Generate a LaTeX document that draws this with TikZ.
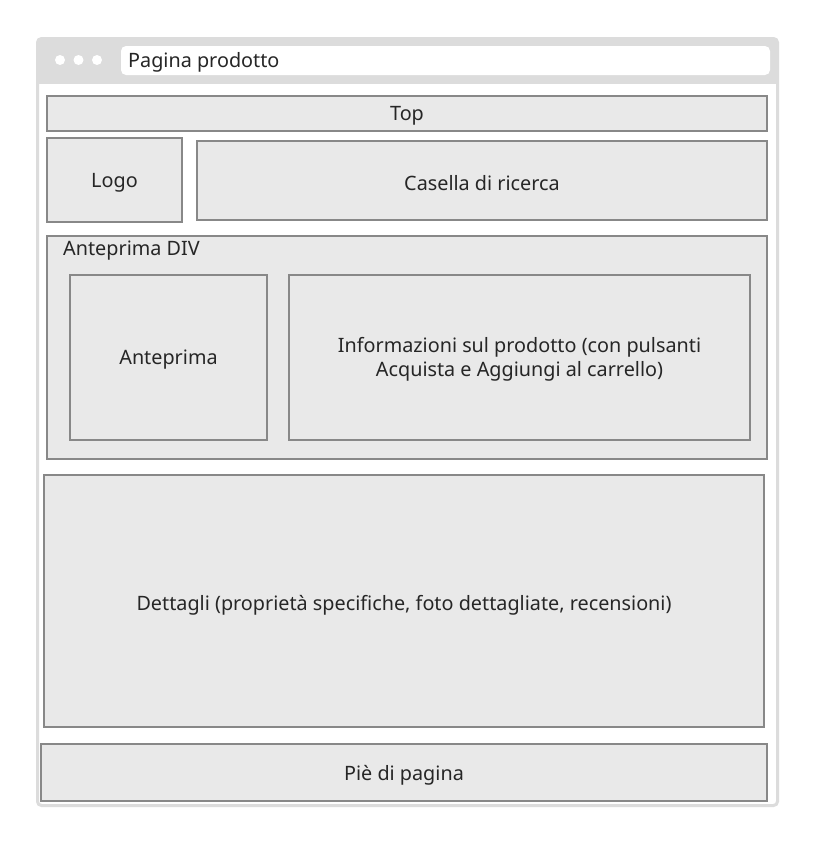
\documentclass[tikz,border=0pt]{standalone}
\usepackage{fontspec}
\setmainfont{Noto Sans}
\definecolor{frame}{HTML}{DCDCDC}
\definecolor{boxfill}{HTML}{E9E9E9}
\definecolor{boxline}{HTML}{888888}
\definecolor{txt}{HTML}{262626}
\begin{document}
\begin{tikzpicture}[x=1pt,y=-1pt,
  wbox/.style={draw=boxline,line width=2.8pt,fill=boxfill},
  lbl/.style={text=txt,font=\fontsize{19.8}{24}\selectfont,align=center},
  dot/.style={circle,fill=white,inner sep=0pt,minimum size=10pt}]
\useasboundingbox (0,0) rectangle (814,844);
\fill[white] (0,0) rectangle (814,844);
% browser frame
\draw[frame,line width=3pt,fill=white,rounded corners=4pt] (37.5,38.5) rectangle (777.5,805.5);
\fill[frame,rounded corners=4pt] (37.5,38.5) rectangle (777.5,60);
\fill[frame] (37.5,55) rectangle (777.5,84);
\node[dot] (d1) at (60,60) {};
\node[dot] (d2) at (78.5,60) {};
\node[dot] (d3) at (97,60) {};
\fill[white,rounded corners=5pt] (121,46) rectangle (770,75);
\node[lbl,anchor=west,inner sep=0pt] (title) at (128,62) {Pagina prodotto};
% boxes
\draw[wbox] (47,96) rectangle (767,131);
\node[lbl] (top) at (407,116) {Top};
\draw[wbox] (47,138) rectangle (182,222);
\node[lbl] (logo) at (114.5,183) {Logo};
\draw[wbox] (197,141) rectangle (767,220);
\node[lbl] (search) at (482,183) {Casella di ricerca};
\draw[wbox] (47,236) rectangle (767,459);
\node[lbl,anchor=west,inner sep=0pt] (div) at (63,251) {Anteprima DIV};
\draw[wbox] (70,275) rectangle (267,440);
\node[lbl] (prev) at (168.5,360) {Anteprima};
\draw[wbox] (289,275) rectangle (750,440);
\node[lbl] (info) at (519.5,359) {Informazioni sul prodotto (con pulsanti\\Acquista e Aggiungi al carrello)};
\draw[wbox] (44,475) rectangle (764,727);
\node[lbl] (det) at (404,605) {Dettagli (proprietà specifiche, foto dettagliate, recensioni)};
\draw[wbox] (41,744) rectangle (767,801);
\node[lbl] (foot) at (404,775) {Piè di pagina};
\end{tikzpicture}
\end{document}
